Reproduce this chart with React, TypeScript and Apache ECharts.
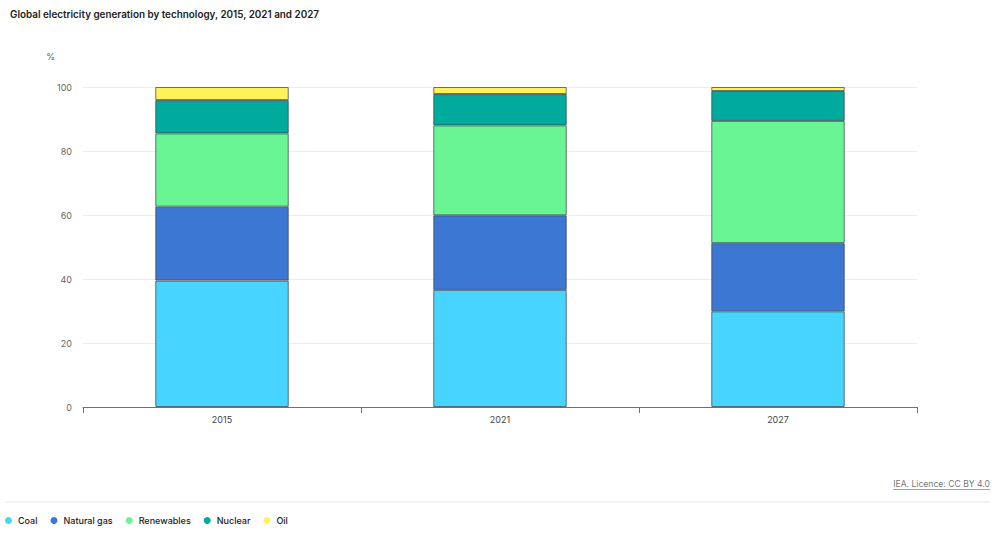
import React, { useEffect, useRef } from "react";
import * as echarts from "echarts";

const categories = ["2015", "2021", "2027"];
const coal = [39.5, 36.6, 29.9];
const naturalGas = [23.1, 23.3, 21.3];
const renewables = [22.9, 28.1, 38.2];
const nuclear = [10.4, 9.8, 9.35];
const oil = [4.1, 2.2, 1.25];
const yTicks = [0, 20, 40, 60, 80, 100];

const seriesDefs = [
  { name: "Coal", data: coal, color: "#47d4ff" },
  { name: "Natural gas", data: naturalGas, color: "#3c78d3" },
  { name: "Renewables", data: renewables, color: "#6af595" },
  { name: "Nuclear", data: nuclear, color: "#00ab9e" },
  { name: "Oil", data: oil, color: "#fff25a" },
];

const FONT = "Inter, 'Noto Sans', sans-serif";

export default function App() {
  const ref = useRef<HTMLDivElement>(null);
  useEffect(() => {
    document.body.style.margin = "0";
    if (!ref.current) return;
    const chart = echarts.init(ref.current, undefined, { renderer: "svg" });
    chart.setOption({
      animation: false,
      textStyle: { fontFamily: FONT },
      title: {
        text: "Global electricity generation by technology, 2015, 2021 and 2027",
        left: 5,
        top: 4,
        textStyle: { fontSize: 9.9, fontWeight: 600, color: "#222", fontFamily: FONT },
      },
      legend: {
        left: 0,
        top: 511,
        icon: "circle",
        itemWidth: 7,
        itemHeight: 7,
        itemGap: 13,
        textStyle: { fontSize: 9, color: "#222", fontFamily: FONT, fontWeight: 500, padding: [0, 0, 0, 1] },
        itemStyle: { borderWidth: 0 },
        data: seriesDefs.map((s) => s.name),
      },
      grid: { left: 83, right: 83, top: 87, bottom: 129, containLabel: false },
      xAxis: {
        type: "category",
        data: categories,
        axisLine: { lineStyle: { color: "#6b7177", width: 1.2 } },
        axisTick: { show: true, alignWithLabel: false, length: 6, lineStyle: { color: "#6b7177", width: 1 } },
        axisLabel: { color: "#444", fontSize: 9, margin: 8, fontFamily: FONT },
      },
      yAxis: {
        type: "value",
        min: 0,
        max: 100,
        interval: 20,
        name: "%",
        nameLocation: "end",
        nameGap: 26,
        nameTextStyle: { color: "#666", fontSize: 9, align: "right", padding: [0, 28, 0, 0] },
        axisLine: { show: false },
        axisTick: { show: false },
        axisLabel: {
          color: "#666",
          fontSize: 9,
          margin: 11,
          fontFamily: FONT,
          formatter: (v: number) => (yTicks.includes(v) ? String(v) : ""),
        },
        splitLine: { lineStyle: { color: "#ececec", width: 1 } },
      },
      series: seriesDefs.map((s) => ({
        name: s.name,
        type: "bar",
        stack: "total",
        barWidth: "48%",
        data: s.data,
        itemStyle: { color: s.color, borderColor: "rgba(60,70,80,0.75)", borderWidth: 1 },
        emphasis: { disabled: true },
      })),
      graphic: [
        {
          type: "line",
          shape: { x1: 5, y1: 502, x2: 990, y2: 502 },
          style: { stroke: "#e6e6e6", lineWidth: 1 },
        },
        {
          type: "text",
          right: 10,
          top: 479,
          style: {
            text: "IEA. Licence: CC BY 4.0",
            fill: "#777",
            fontSize: 8.6,
            fontFamily: FONT,
          },
        },
        {
          type: "line",
          shape: { x1: 893, y1: 489.5, x2: 990, y2: 489.5 },
          style: { stroke: "#888", lineWidth: 0.8 },
        },
      ],
    });
    return () => chart.dispose();
  }, []);
  return <div ref={ref} style={{ width: 1000, height: 536 }} />;
}
